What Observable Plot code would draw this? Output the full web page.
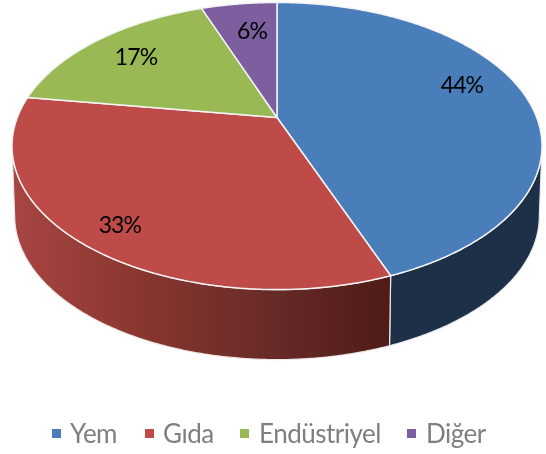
<!DOCTYPE html>
<html>
<head>
<meta charset="utf-8">
<script src="https://cdn.jsdelivr.net/npm/d3@7"></script>
<script src="https://cdn.jsdelivr.net/npm/@observablehq/plot@0.6"></script>
<style>
  html, body { margin: 0; padding: 0; background: #fff; }
  #chart svg { display: block; filter: blur(0.5px); }
  #chart text { letter-spacing: -0.9px; }
  #legend { position: relative; height: 44px; font: 26px Lato, sans-serif; letter-spacing: -0.5px; color: #7f7f7f; filter: blur(0.4px); }
  #legend span { position: absolute; white-space: nowrap; line-height: 44px; top: 1px; }
  #legend i { position: absolute; width: 9px; height: 9px; top: 19px; }
</style>
</head>
<body>
<div id="chart"></div>
<div id="legend"></div>
<script>
const categories = ["Yem", "Gıda", "Endüstriyel", "Diğer"];
const shares = [44.2, 33.2, 17.0, 5.6];
const labels = ["44%", "33%", "17%", "6%"];
const colors = ["#4a7ebb", "#be4b48", "#98b954", "#7d5fa0"];

// Label anchors in the disc's projected coordinates
const labelU = [0.712, -0.605, -0.543, -0.096];
const labelV = [0.232, -0.783, 0.435, 0.624];

// Legend layout
const swatchX = [52, 145, 240, 407];
const legendTextX = [70, 163, 259, 426];

// Perspective of the tilted disc
const k = 0.1987;
const depth = 0.5076;
const shrink = 0.99;
const project = (t, r = 1, lower = false) => {
  const X = r * Math.sin(t), Y = r * Math.cos(t), d = 1 + k * Y;
  return lower
    ? { u: shrink * X / d, v: Y / d - depth }
    : { u: X / d, v: Y / d };
};
const rad = d => d * Math.PI / 180;
const arc = (a, b, lower) => {
  const n = Math.max(2, Math.ceil(Math.abs(b - a) * 2));
  return d3.range(n + 1).map(i => project(rad(a + (b - a) * i / n), 1, lower));
};

const total = d3.sum(shares);
const ends = d3.cumsum(shares).map(v => v / total * 360);
const starts = [0, ...ends.slice(0, -1)];

const slices = categories.flatMap((name, i) => {
  const pts = [{ u: 0, v: 0 }, ...arc(starts[i], ends[i], false), { u: 0, v: 0 }];
  return pts.map(p => ({ ...p, name }));
});

// The visible wall runs between the two tangent angles of the disc outline
const tangent = Math.acos(-k) * 180 / Math.PI;
const wall = (a, b) => {
  const pts = [...arc(a, b, false), ...arc(b, a, true)];
  return [...pts, pts[0]];
};
const blueWall = wall(tangent, ends[0]);
const redWall = wall(ends[0], 360 - tangent);

const gradient = () => {
  const defs = d3.create("svg:defs");
  const g = defs.append("linearGradient").attr("id", "redWall");
  [[0, "#a84543"], [0.35, "#88362f"], [0.7, "#662a28"], [1, "#4e1b17"]].forEach(([o, c]) =>
    g.append("stop").attr("offset", o).attr("stop-color", c));
  return defs.node();
};

const plot = Plot.plot({
  width: 546,
  height: 410,
  margin: 0,
  x: { domain: [-1, 1], range: [16.8, 536.2], axis: null },
  y: { domain: [-1, 1], range: [254.9, -20.9], axis: null },
  color: { domain: categories, range: colors },
  marks: [
    gradient,
    Plot.line(blueWall, { x: "u", y: "v", fill: "#1d3048", stroke: "#e9ecef", strokeWidth: 1.2, curve: "linear" }),
    Plot.line(redWall, { x: "u", y: "v", fill: "url(#redWall)", stroke: "#efe6e6", strokeWidth: 1.2, curve: "linear" }),
    Plot.line(slices, { x: "u", y: "v", z: "name", fill: "name", stroke: "#f4f4f4", strokeWidth: 1.5, curve: "linear", strokeLinejoin: "round" }),
    Plot.text(categories, {
      x: labelU, y: labelV, text: labels,
      fill: "#000", fontSize: 23, fontFamily: "Lato, sans-serif",
      textAnchor: "middle", lineAnchor: "middle"
    })
  ]
});
document.getElementById("chart").append(plot);

const legend = document.getElementById("legend");
categories.forEach((name, i) => {
  const sw = document.createElement("i");
  sw.style.left = swatchX[i] + "px";
  sw.style.background = colors[i];
  legend.append(sw);
  const t = document.createElement("span");
  t.style.left = legendTextX[i] + "px";
  t.textContent = name;
  legend.append(t);
});
</script>
</body>
</html>
